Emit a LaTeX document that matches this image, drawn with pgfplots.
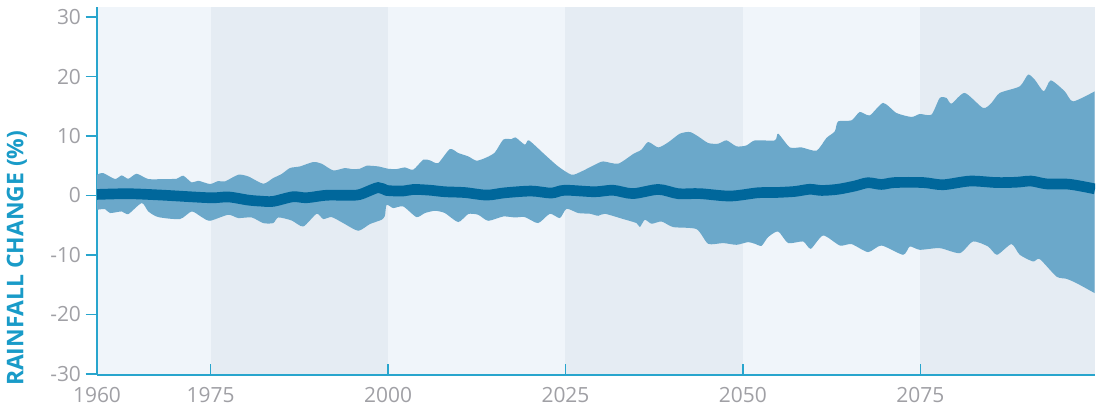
\documentclass[border=0pt]{standalone}
\usepackage{fontspec}
\setmainfont{Open Sans}
\usepackage{pgfplots}
\pgfplotsset{compat=1.18}
\usepackage{pgfplotstable}
\usepgfplotslibrary{fillbetween}

\definecolor{bglight}{RGB}{240,245,250}
\definecolor{bgdark}{RGB}{229,236,243}
\definecolor{band}{RGB}{107,168,202}
\definecolor{med}{RGB}{0,103,155}
\definecolor{axc}{RGB}{40,165,205}
\definecolor{tickc}{RGB}{160,160,165}
\definecolor{labc}{RGB}{25,155,200}

\pgfplotstableread{
x y
1959.00 3.48
1959.85 3.77
1961.54 2.76
1962.48 3.37
1963.41 2.81
1964.59 3.65
1966.23 2.76
1968.58 2.76
1970.23 2.81
1971.15 3.32
1972.34 2.19
1973.27 2.47
1974.92 1.92
1976.08 2.42
1977.03 2.36
1978.90 3.48
1980.31 3.20
1982.42 1.97
1983.83 2.93
1985.01 3.60
1986.18 4.61
1987.59 4.88
1989.46 5.62
1990.65 5.34
1992.28 4.21
1993.93 4.61
1994.87 4.44
1996.04 4.49
1996.99 5.00
1998.62 4.88
2000.03 4.49
2001.21 4.44
2002.38 4.71
2003.55 4.33
2004.96 6.01
2005.90 5.90
2007.07 5.45
2008.72 7.81
2009.89 7.14
2011.30 6.57
2012.48 5.84
2013.89 6.40
2015.06 7.24
2016.23 9.38
2017.41 9.49
2017.97 9.76
2019.28 8.54
2019.85 9.26
2022.10 6.85
2023.97 4.88
2025.86 3.48
2027.27 4.04
2029.14 5.17
2030.31 5.72
2032.42 5.34
2034.54 6.97
2035.70 7.69
2036.65 8.99
2038.06 8.08
2039.46 8.92
2041.11 10.39
2042.52 10.67
2043.69 9.93
2045.10 8.82
2046.51 8.70
2047.69 9.26
2049.10 8.25
2050.51 8.42
2051.68 9.26
2054.49 9.26
2054.96 10.39
2056.61 8.08
2058.25 8.08
2060.37 7.53
2061.76 9.66
2062.94 10.77
2063.41 12.46
2065.30 12.63
2066.46 14.04
2067.87 13.47
2069.75 15.56
2071.63 13.87
2073.75 13.20
2074.92 13.70
2076.56 13.59
2077.73 16.40
2078.68 16.40
2079.38 15.44
2081.25 17.24
2083.83 14.71
2085.01 15.56
2086.18 17.24
2089.00 18.35
2090.17 20.32
2091.11 19.48
2092.38 17.51
2093.37 19.36
2095.34 17.51
2096.51 15.82
2099.56 17.51
}\uptab

\pgfplotstableread{
x y
1959.00 -2.41
1960.13 -2.29
1960.83 -2.96
1962.48 -2.69
1963.41 -3.13
1965.30 -1.28
1966.23 -2.69
1967.63 -3.64
1970.69 -3.97
1972.34 -2.69
1973.75 -3.64
1974.92 -4.26
1977.49 -3.25
1978.90 -3.80
1980.79 -3.70
1982.42 -4.65
1983.83 -4.65
1984.54 -3.70
1986.42 -4.21
1988.06 -5.22
1989.94 -3.08
1990.87 -3.97
1992.06 -3.64
1993.69 -4.65
1995.80 -5.94
1997.45 -4.81
1999.10 -4.09
1999.56 -3.42
1999.80 -1.57
2000.73 -2.12
2002.14 -1.85
2004.01 -3.64
2005.20 -2.96
2006.61 -2.58
2008.01 -2.96
2009.89 -4.48
2011.30 -3.13
2012.70 -3.25
2014.11 -4.26
2016.23 -3.54
2017.87 -3.70
2019.28 -3.64
2021.15 -4.65
2022.80 -3.08
2024.21 -3.80
2025.15 -2.24
2026.79 -2.96
2028.44 -3.08
2029.61 -3.42
2030.55 -3.08
2033.13 -3.97
2035.01 -4.65
2035.48 -5.32
2036.18 -4.09
2037.13 -4.76
2038.54 -4.38
2040.17 -5.32
2043.46 -5.66
2045.10 -8.13
2047.21 -8.01
2049.10 -8.30
2050.73 -7.85
2051.68 -8.13
2052.62 -8.47
2053.55 -7.00
2054.96 -6.06
2056.37 -8.01
2058.48 -7.74
2059.56 -8.97
2061.30 -6.73
2063.65 -8.42
2065.30 -8.18
2067.63 -9.53
2069.52 -8.42
2072.56 -9.98
2073.51 -8.59
2074.92 -9.14
2077.73 -8.86
2080.55 -9.70
2082.42 -7.74
2084.54 -8.59
2085.80 -9.98
2087.83 -8.18
2089.00 -9.98
2090.87 -11.11
2091.82 -10.71
2094.17 -13.64
2095.58 -14.02
2096.99 -14.75
2099.56 -16.43
}\lowtab

\pgfplotstableread{
x y
1959.0 0.17
1963.4 0.29
1968.1 0.06
1974.9 -0.39
1977.5 -0.25
1980.3 -0.78
1982.0 -0.95
1983.8 -1.00
1986.6 -0.22
1988.5 -0.39
1991.3 0.03
1994.2 0.03
1996.0 0.15
1998.6 1.33
1999.8 0.84
2002.1 0.74
2003.6 1.01
2005.9 0.88
2008.0 0.62
2010.8 0.49
2013.9 0.06
2016.5 0.45
2020.2 0.74
2023.0 0.40
2024.9 0.88
2029.1 0.62
2031.7 0.88
2034.5 0.31
2038.1 1.01
2040.9 0.29
2043.9 0.31
2048.2 -0.10
2052.1 0.45
2054.5 0.49
2057.3 0.67
2059.4 1.04
2061.1 0.84
2063.4 1.04
2065.8 1.60
2067.6 2.14
2069.5 1.85
2071.4 2.17
2075.4 2.17
2078.2 1.80
2082.0 2.42
2085.7 2.17
2088.5 2.22
2090.6 2.42
2092.8 1.94
2096.0 1.88
2099.6 1.10
}\medtab

\begin{document}
\begin{tikzpicture}
\begin{axis}[
  set layers=standard,
  scale only axis, width=748.5pt, height=276pt,
  xmin=1959, xmax=2099.6, ymin=-30.2, ymax=31.7,
  axis x line*=bottom, axis y line*=left,
  axis line style={axc, line width=1.5pt, -},
  xtick={1959,1975,2000,2025,2050,2075},
  xticklabels={1960,1975,2000,2025,2050,2075},
  ytick={-30,-20,-10,0,10,20,30},
  xtick align=inside, ytick align=outside,
  major tick length=8.5pt,
  tick style={axc, line width=1.2pt},
  /pgf/number format/assume math mode=true,
  ticklabel style={font=\fontsize{15.7}{18}\selectfont, text=tickc},
  xticklabel style={yshift=-5.5pt},
  ylabel={RAINFALL CHANGE (\%)},
  ylabel style={at={(axis description cs:-0.0802,0.317)}, anchor=center,
     font=\bfseries\fontsize{17.2}{20}\selectfont, text=labc},
]
\begin{pgfonlayer}{axis background}
\fill[bglight] (axis cs:1959,-30.2) rectangle (axis cs:1975,31.7);
\fill[bgdark]  (axis cs:1975,-30.2) rectangle (axis cs:2000,31.7);
\fill[bglight] (axis cs:2000,-30.2) rectangle (axis cs:2025,31.7);
\fill[bgdark]  (axis cs:2025,-30.2) rectangle (axis cs:2050,31.7);
\fill[bglight] (axis cs:2050,-30.2) rectangle (axis cs:2075,31.7);
\fill[bgdark]  (axis cs:2075,-30.2) rectangle (axis cs:2099.6,31.7);
\end{pgfonlayer}
\addplot[name path=up, draw=none, smooth, tension=0.4] table {\uptab};
\addplot[name path=lo, draw=none, smooth, tension=0.4] table {\lowtab};
\addplot[fill=band, draw=none] fill between[of=up and lo];
\addplot[med, line width=8pt, smooth, tension=0.5] table {\medtab};
\end{axis}
\pgfresetboundingbox
\path ([xshift=-72.75pt,yshift=-24.75pt]current axis.south west) rectangle ([xshift=1.5pt,yshift=5.25pt]current axis.north east);
\end{tikzpicture}
\end{document}
